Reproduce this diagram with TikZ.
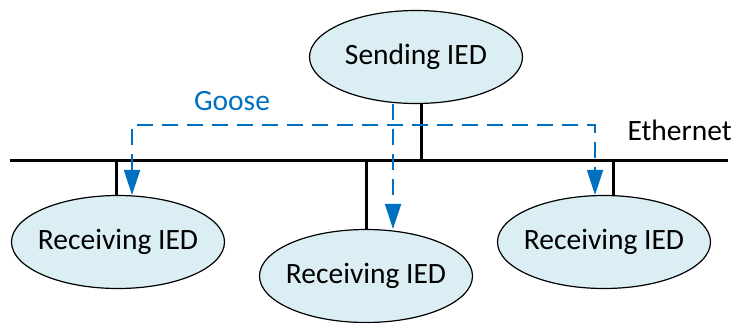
\documentclass[tikz,border=0pt]{standalone}
\usepackage{fontspec}
\setmainfont{Carlito}
\usetikzlibrary{shapes.geometric,arrows.meta}
\definecolor{iedfill}{HTML}{DAEEF3}
\definecolor{gooseblue}{HTML}{0070C0}
\tikzset{
    ied/.style={ellipse, draw, line width=1.2pt, fill=iedfill, inner xsep=-20pt, inner ysep=0pt,
        minimum width=213pt, minimum height=93pt, font=\fontsize{29.5}{35}\selectfont},
    bus/.style={line width=3pt},
    goose/.style={gooseblue, line width=2pt, dash pattern=on 16pt off 9pt}
}
\begin{document}
\begin{tikzpicture}[x=1pt, y=-1pt]
            \useasboundingbox (0,0) rectangle (733,322);

            \node[ied] (send) at (416,57) {Sending IED};
            \node[ied] (recvL) at (118,242) {Receiving IED};
            \node[ied] (recvM) at (366,276) {Receiving IED};
            \node[ied] (recvR) at (604,242) {Receiving IED};

            % ethernet bus and taps
            \coordinate (busL) at (10,160);
            \coordinate (busR) at (728,160);
            \draw[bus] (busL) -- (busR);
            \node[anchor=west, font=\fontsize{29.5}{35}\selectfont] (eth) at (624,130) {Ethernet};

            \coordinate (tapS) at (421,160);
            \coordinate (tapL) at (116,160);
            \coordinate (tapM) at (366,160);
            \coordinate (tapR) at (613,160);
            \draw[bus] (tapS) -- (tapS |- send.south);
            \foreach \t/\n in {tapL/recvL, tapM/recvM, tapR/recvR} {
                \draw[bus] (\t) -- (\t |- \n.north);
            }

            % goose messages
            \node[gooseblue, font=\fontsize{29.5}{35}\selectfont] (goose) at (232,101) {Goose};
            \coordinate (gL) at (132,125);
            \coordinate (gR) at (595,125);
            \coordinate (gM) at (393,125);
            \draw[goose, {Triangle[length=25pt, width=16pt]}-{Triangle[length=25pt, width=16pt]}]
                (gL |- recvL.north) -- (gL) -- (gR) -- (gR |- recvR.north);
            \draw[goose, -{Triangle[length=25pt, width=16pt]}] (gM |- send.south) -- (gM |- recvM.north);
        \end{tikzpicture}
\end{document}
